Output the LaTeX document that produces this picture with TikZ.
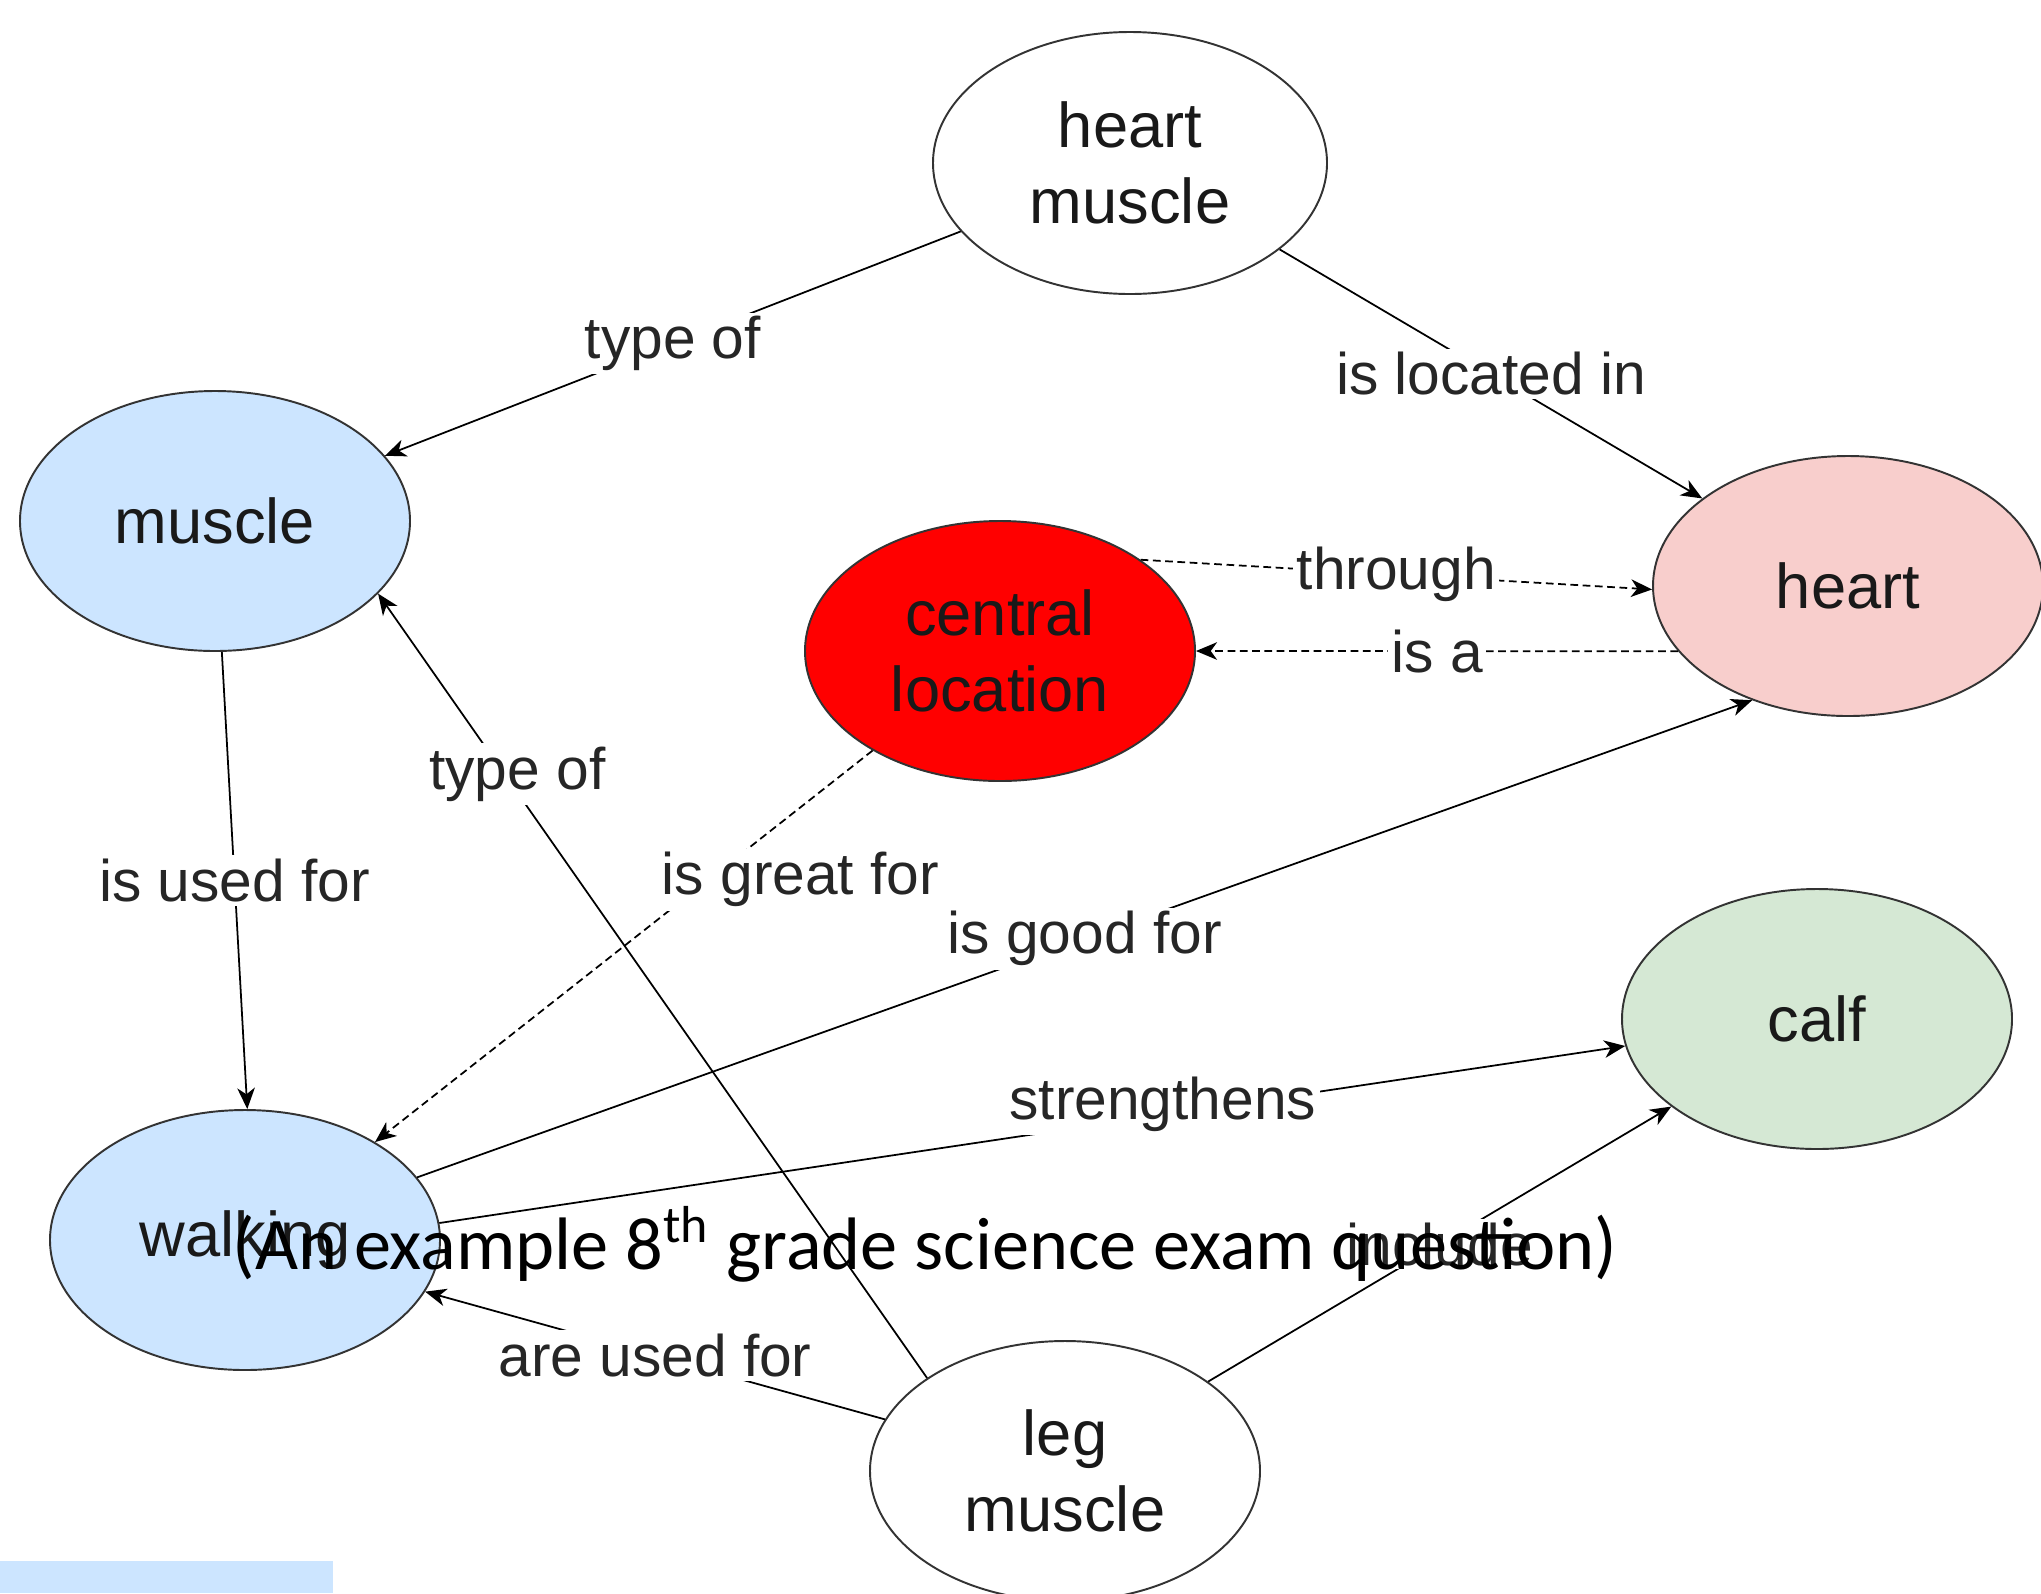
\documentclass[tikz,border=0pt]{standalone}
\usepackage{fontspec}
\setmainfont{Liberation Sans}
\newfontfamily\calibri{Carlito}
\usetikzlibrary{arrows.meta,shapes.geometric}
\definecolor{blueish}{HTML}{CCE5FF}
\definecolor{pinkish}{HTML}{F8CECC}
\definecolor{greenish}{HTML}{D5E8D4}

\begin{document}
\begin{tikzpicture}[>={Stealth[length=6pt,width=5pt,inset=1.8pt]}]
		\tikzstyle{concept}=[ellipse, draw=black!80, line width=0.55pt, minimum width=3.9cm, minimum height=2.6cm, inner sep=0pt, align=center, font=\fontsize{18}{21.6}\selectfont, text=black!90]
		\tikzstyle{link}=[->, line width=0.5pt]
		\tikzstyle{dlink}=[link, dash pattern=on 2.2pt off 1.3pt]
		\tikzstyle{lbl}=[fill=white, inner sep=1pt, font=\fontsize{16.7}{20}\selectfont, text=black!85]

		\useasboundingbox (0,0) rectangle (20.41,-15.93);
		\fill [blueish] (0,-15.61) rectangle (3.33,-15.93);

		\node [concept, fill=blueish] (muscle) at (2.15,-5.21) {muscle};
		\node [concept, fill=blueish] (walking) [node distance=7.19cm, below of=muscle, xshift=0.3cm] {walking};
		\node [concept] (leg) [node distance=8.2cm, right of=walking, yshift=-2.31cm] {leg\\muscle};
		\node [concept, fill=red] (cl) [node distance=7.85cm, right of=muscle, yshift=-1.3cm] {central\\location};
		\node [concept, minimum width=3.94cm, minimum height=2.62cm] (hm) [node distance=4.88cm, above of=cl, xshift=1.3cm] {heart\\muscle};
		\node [concept, fill=pinkish] (heart) [node distance=8.48cm, right of=cl, yshift=0.65cm] {heart};
		\node [concept, fill=greenish] (calf) [node distance=4.33cm, below of=heart, xshift=-0.31cm] {calf};

		\path (hm.202) edge [link] node [lbl] {type of} (muscle.21);
		\path (hm.-30) edge [link] node [lbl] {is located in} (heart.149);
		\path (cl.33) edge [dlink] node [lbl] {through} (heart.181);
		\path (heart.201) edge [dlink] node [lbl] {is a} (cl.0);
		\path (muscle.-87) edge [link] node [lbl] {is used for} (walking.89);
		\path (leg.146) edge [link] node [lbl, pos=0.77, xshift=0.13cm] {type of} (muscle.-24);
		\path (cl.218) edge [dlink] node [lbl, pos=0.33, xshift=0.92cm] {is great for} (walking.37);
		\path (walking.20) edge [link] node [lbl] {is good for} (heart.230);
		\path (walking.5) edge [link] node [lbl, pos=0.61, yshift=0.11cm] {strengthens} (calf.188);
		\path (leg.32) edge [link] node [lbl] {include} (calf.211);
		\path (leg.164) edge [link] node [lbl] {are used for} (walking.-16);

		\node [anchor=base west, inner sep=0pt, font=\calibri\fontsize{21.15}{25}\selectfont] (title) at (2.32,-12.69) {(An example 8\textsuperscript{th} grade science exam question)};
	\end{tikzpicture}
\end{document}
